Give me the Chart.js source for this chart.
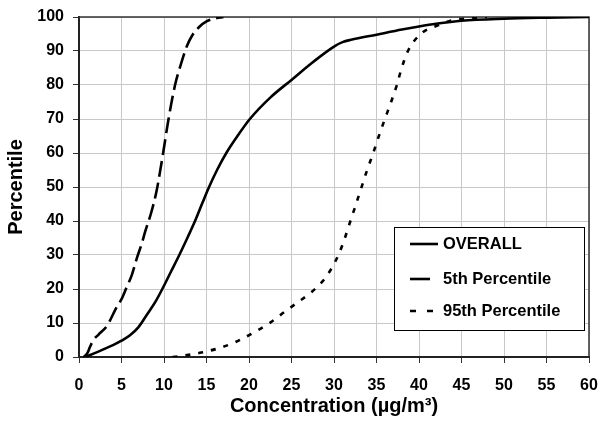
<!DOCTYPE html>
<html><head><meta charset="utf-8">
<script src="https://cdn.jsdelivr.net/npm/chart.js@4"></script>
<style>html,body{margin:0;padding:0;background:#fff}</style>
</head><body>
<canvas id="c" width="600" height="421" style="display:block;width:600px;height:421px"></canvas>
<script>
// ---- data ----
const xTicks = [0,5,10,15,20,25,30,35,40,45,50,55,60];
const yTicks = [0,10,20,30,40,50,60,70,80,90,100];
const seriesLabels = ["OVERALL", "5th Percentile", "95th Percentile"];

const overallX = [0.5,1,2,3,4,5,6,7,8,9,9.8,10.8,11.8,12.8,13.65,14.5,15.3,16.3,17.4,18.7,20.1,22.5,25,27.5,30,31,32,35,38,40,42,45,50,55,60];
const overallY = [0,0.3,1.3,2.4,3.5,4.8,6.4,8.8,12.5,16.3,20,25,30,35.3,40,45.2,50,55.3,60.3,65.2,70,76.3,81.5,86.7,91.3,92.6,93.3,94.8,96.3,97.2,98,98.9,99.5,99.8,100];

const p5X = [0.6,1.0,1.3,1.7,2.3,3.3,4.4,5,5.6,6.2,6.8,7.4,7.8,8.5,9.1,9.5,9.9,10.5,11.3,12.1,12.7,13.3,14.2,15,16,17];
const p5Y = [0,1.2,3,5,6.6,9.2,14.5,17,20.5,24,29,33.5,37,42.5,48.5,54,60,69.5,80,87,91.5,94.5,97.2,98.7,99.6,100];

const p95X = [11,12,13.6,14.4,16.6,18.5,20.7,22.5,24.2,25.8,27.3,28.7,29.6,30.5,31.2,31.8,32.4,33,33.9,34.6,35.2,35.8,36.8,37.4,37.9,38.7,40.3,42.3,44,46,48];
const p95Y = [0,0.3,0.9,1.3,2.7,4.5,7.4,10.1,13.3,16.2,19,22.4,25.6,29.9,34.4,39,43.5,48.1,55,59.9,64.4,68.7,75.6,80,84.5,90,95.2,97.6,99.1,99.6,100];

const toPts = (xs, ys) => xs.map((v, i) => ({x: v, y: ys[i]}));

const FONT = '"Liberation Sans", Arial, Helvetica, sans-serif';

const frame = {
  id: 'frame',
  beforeDatasetsDraw(chart) {
    const {ctx, chartArea: a} = chart;
    ctx.save();
    ctx.strokeStyle = '#333';
    ctx.lineWidth = 1.5;
    ctx.beginPath();
    ctx.moveTo(a.left, a.top); ctx.lineTo(a.right, a.top); ctx.lineTo(a.right, a.bottom);
    ctx.stroke();
    ctx.restore();
  }
};

const legendDashes = [[], [20, 20], [6, 11]];

const boxLegend = {
  id: 'boxLegend',
  afterDatasetsDraw(chart) {
    const ctx = chart.ctx;
    const bx = 394, by = 227, bw = 190, bh = 103;
    ctx.save();
    ctx.fillStyle = '#fff';
    ctx.fillRect(bx, by, bw, bh);
    ctx.strokeStyle = '#000';
    ctx.lineWidth = 1;
    ctx.strokeRect(bx + 0.5, by + 0.5, bw, bh);
    const rows = [244, 279, 311];
    chart.data.datasets.forEach((ds, i) => {
      const yy = rows[i];
      ctx.strokeStyle = ds.borderColor;
      ctx.lineWidth = ds.borderWidth;
      ctx.setLineDash(legendDashes[i]);
      ctx.beginPath();
      ctx.moveTo(410, yy); ctx.lineTo(438, yy);
      ctx.stroke();
      ctx.setLineDash([]);
      ctx.fillStyle = '#000';
      ctx.font = 'bold 16.5px ' + FONT;
      ctx.textBaseline = 'middle';
      ctx.textAlign = 'left';
      ctx.fillText(ds.label, 443, yy);
    });
    ctx.restore();
  }
};

const common = {
  showLine: true, pointRadius: 0, borderColor: '#000', backgroundColor: '#000',
  borderWidth: 2.6, cubicInterpolationMode: 'monotone', fill: false
};

new Chart(document.getElementById('c'), {
  type: 'scatter',
  data: {
    datasets: [
      Object.assign({label: seriesLabels[0], data: toPts(overallX, overallY)}, common),
      Object.assign({label: seriesLabels[1], data: toPts(p5X, p5Y), borderDash: [16, 6]}, common),
      Object.assign({label: seriesLabels[2], data: toPts(p95X, p95Y), borderDash: [5, 8]}, common)
    ]
  },
  options: {
    responsive: false,
    animation: false,
    layout: {padding: {top: 17, right: 11, left: 0, bottom: 0}},
    plugins: {legend: {display: false}, tooltip: {enabled: false}},
    scales: {
      x: {
        type: 'linear', min: 0, max: 60,
        afterBuildTicks: s => { s.ticks = xTicks.map(v => ({value: v})); },
        afterFit: s => { s.height = 64; s.paddingLeft = 0; s.paddingRight = 0; },
        grid: {color: '#c8c8c8', lineWidth: 1, tickLength: 6, tickColor: '#333'},
        border: {color: '#222', width: 2},
        ticks: {color: '#000', padding: 13, maxRotation: 0, font: {family: FONT, size: 16, weight: 'bold'}},
        title: {display: true, text: 'Concentration (µg/m³)', color: '#000',
                padding: {top: 0, bottom: 3}, font: {family: FONT, size: 20, weight: 'bold'}}
      },
      y: {
        type: 'linear', min: 0, max: 100,
        afterBuildTicks: s => { s.ticks = yTicks.map(v => ({value: v})); },
        afterFit: s => { s.width = 79; s.paddingTop = 0; s.paddingBottom = 0; },
        grid: {color: '#c8c8c8', lineWidth: 1, tickLength: 6, tickColor: '#333'},
        border: {color: '#222', width: 2},
        ticks: {color: '#000', padding: 9, font: {family: FONT, size: 16, weight: 'bold'}},
        title: {display: true, text: 'Percentile', color: '#000',
                padding: {top: 4, bottom: 0}, font: {family: FONT, size: 20, weight: 'bold'}}
      }
    }
  },
  plugins: [frame, boxLegend]
});
</script>
</body></html>
